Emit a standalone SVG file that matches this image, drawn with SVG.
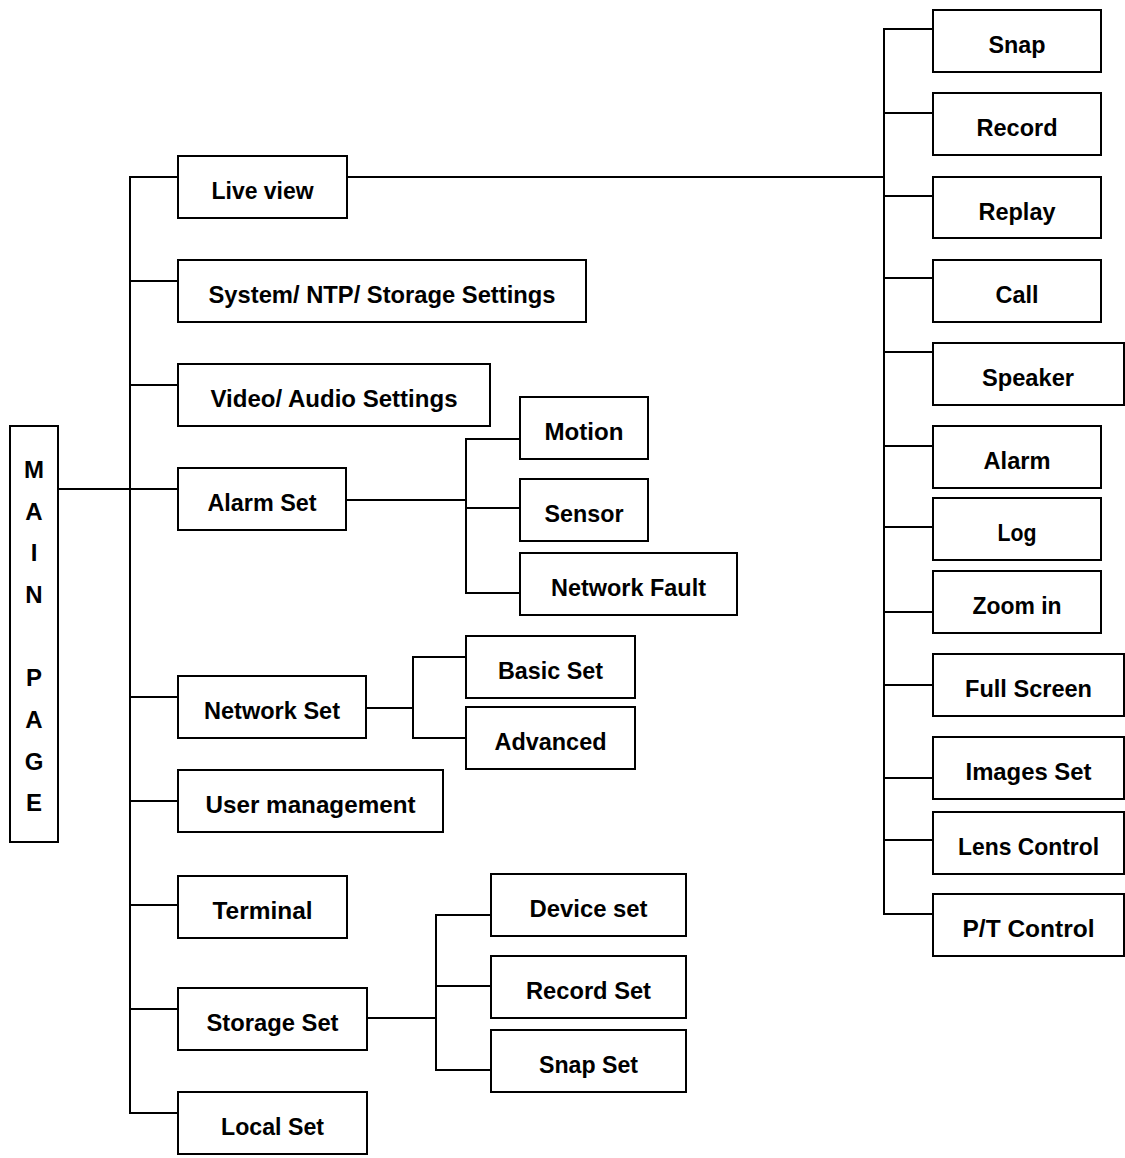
<svg xmlns="http://www.w3.org/2000/svg" width="1125" height="1158" viewBox="0 0 1125 1158">
<style>
rect{fill:#fff;stroke:#000;stroke-width:2}
.c line{stroke:#000;stroke-width:2;stroke-linecap:square}
text{font-family:"Liberation Sans",Arial,sans-serif;font-weight:bold;font-size:24px;text-anchor:middle;fill:#000}
</style>
<rect x="0" y="0" width="1125" height="1158" style="stroke:none"/>
<g class="c" id="connectors">
<line x1="58" y1="489" x2="130" y2="489"/>
<line x1="130" y1="177" x2="130" y2="1113"/>
<line x1="130" y1="177" x2="178" y2="177"/>
<line x1="130" y1="281" x2="178" y2="281"/>
<line x1="130" y1="385" x2="178" y2="385"/>
<line x1="130" y1="489" x2="178" y2="489"/>
<line x1="130" y1="697" x2="178" y2="697"/>
<line x1="130" y1="801" x2="178" y2="801"/>
<line x1="130" y1="905" x2="178" y2="905"/>
<line x1="130" y1="1009" x2="178" y2="1009"/>
<line x1="130" y1="1113" x2="178" y2="1113"/>
<line x1="347" y1="177" x2="884" y2="177"/>
<line x1="884" y1="29" x2="884" y2="914"/>
<line x1="884" y1="29" x2="933" y2="29"/>
<line x1="884" y1="113" x2="933" y2="113"/>
<line x1="884" y1="196" x2="933" y2="196"/>
<line x1="884" y1="278" x2="933" y2="278"/>
<line x1="884" y1="352" x2="933" y2="352"/>
<line x1="884" y1="446" x2="933" y2="446"/>
<line x1="884" y1="527" x2="933" y2="527"/>
<line x1="884" y1="612" x2="933" y2="612"/>
<line x1="884" y1="685" x2="933" y2="685"/>
<line x1="884" y1="778" x2="933" y2="778"/>
<line x1="884" y1="840" x2="933" y2="840"/>
<line x1="884" y1="914" x2="933" y2="914"/>
<line x1="346" y1="500" x2="466" y2="500"/>
<line x1="466" y1="439" x2="466" y2="593"/>
<line x1="466" y1="439" x2="520" y2="439"/>
<line x1="466" y1="508" x2="520" y2="508"/>
<line x1="466" y1="593" x2="520" y2="593"/>
<line x1="366" y1="708" x2="413" y2="708"/>
<line x1="413" y1="657" x2="413" y2="738"/>
<line x1="413" y1="657" x2="466" y2="657"/>
<line x1="413" y1="738" x2="466" y2="738"/>
<line x1="367" y1="1018" x2="436" y2="1018"/>
<line x1="436" y1="915" x2="436" y2="1070"/>
<line x1="436" y1="915" x2="491" y2="915"/>
<line x1="436" y1="986" x2="491" y2="986"/>
<line x1="436" y1="1070" x2="491" y2="1070"/>
</g>
<g id="main-page"><rect x="10" y="426" width="48" height="416"/>
<text x="34" y="478">M</text><text x="34" y="520">A</text><text x="34" y="561">I</text><text x="34" y="603">N</text><text x="34" y="686">P</text><text x="34" y="728">A</text><text x="34" y="770">G</text><text x="34" y="811">E</text></g>
<g id="live-view"><rect x="178" y="156" width="169" height="62"/><text x="262.5" y="199" textLength="102" lengthAdjust="spacingAndGlyphs">Live view</text></g>
<g id="system"><rect x="178" y="260" width="408" height="62"/><text x="382" y="303" textLength="347" lengthAdjust="spacingAndGlyphs">System/ NTP/ Storage Settings</text></g>
<g id="video"><rect x="178" y="364" width="312" height="62"/><text x="334" y="407" textLength="247" lengthAdjust="spacingAndGlyphs">Video/ Audio Settings</text></g>
<g id="alarm-set"><rect x="178" y="468" width="168" height="62"/><text x="262" y="511" textLength="109" lengthAdjust="spacingAndGlyphs">Alarm Set</text></g>
<g id="network-set"><rect x="178" y="676" width="188" height="62"/><text x="272" y="719" textLength="136" lengthAdjust="spacingAndGlyphs">Network Set</text></g>
<g id="user-management"><rect x="178" y="770" width="265" height="62"/><text x="310.5" y="813" textLength="210" lengthAdjust="spacingAndGlyphs">User management</text></g>
<g id="terminal"><rect x="178" y="876" width="169" height="62"/><text x="262.5" y="919" textLength="100" lengthAdjust="spacingAndGlyphs">Terminal</text></g>
<g id="storage-set"><rect x="178" y="988" width="189" height="62"/><text x="272.5" y="1031" textLength="132" lengthAdjust="spacingAndGlyphs">Storage Set</text></g>
<g id="local-set"><rect x="178" y="1092" width="189" height="62"/><text x="272.5" y="1135" textLength="103" lengthAdjust="spacingAndGlyphs">Local Set</text></g>
<g id="motion"><rect x="520" y="397" width="128" height="62"/><text x="584" y="440" textLength="79" lengthAdjust="spacingAndGlyphs">Motion</text></g>
<g id="sensor"><rect x="520" y="479" width="128" height="62"/><text x="584" y="522" textLength="79" lengthAdjust="spacingAndGlyphs">Sensor</text></g>
<g id="network-fault"><rect x="520" y="553" width="217" height="62"/><text x="628.5" y="596" textLength="155" lengthAdjust="spacingAndGlyphs">Network Fault</text></g>
<g id="basic-set"><rect x="466" y="636" width="169" height="62"/><text x="550.5" y="679" textLength="105" lengthAdjust="spacingAndGlyphs">Basic Set</text></g>
<g id="advanced"><rect x="466" y="707" width="169" height="62"/><text x="550.5" y="750" textLength="112" lengthAdjust="spacingAndGlyphs">Advanced</text></g>
<g id="device-set"><rect x="491" y="874" width="195" height="62"/><text x="588.5" y="917" textLength="118" lengthAdjust="spacingAndGlyphs">Device set</text></g>
<g id="record-set"><rect x="491" y="956" width="195" height="62"/><text x="588.5" y="999" textLength="125" lengthAdjust="spacingAndGlyphs">Record Set</text></g>
<g id="snap-set"><rect x="491" y="1030" width="195" height="62"/><text x="588.5" y="1073" textLength="99" lengthAdjust="spacingAndGlyphs">Snap Set</text></g>
<g id="snap"><rect x="933" y="10" width="168" height="62"/><text x="1017" y="53" textLength="57" lengthAdjust="spacingAndGlyphs">Snap</text></g>
<g id="record"><rect x="933" y="93" width="168" height="62"/><text x="1017" y="136" textLength="81" lengthAdjust="spacingAndGlyphs">Record</text></g>
<g id="replay"><rect x="933" y="177" width="168" height="61"/><text x="1017" y="220" textLength="77" lengthAdjust="spacingAndGlyphs">Replay</text></g>
<g id="call"><rect x="933" y="260" width="168" height="62"/><text x="1017" y="303" textLength="43" lengthAdjust="spacingAndGlyphs">Call</text></g>
<g id="speaker"><rect x="933" y="343" width="191" height="62"/><text x="1028" y="386" textLength="92" lengthAdjust="spacingAndGlyphs">Speaker</text></g>
<g id="alarm"><rect x="933" y="426" width="168" height="62"/><text x="1017" y="469" textLength="67" lengthAdjust="spacingAndGlyphs">Alarm</text></g>
<g id="log"><rect x="933" y="498" width="168" height="62"/><text x="1017" y="541" textLength="39" lengthAdjust="spacingAndGlyphs">Log</text></g>
<g id="zoom-in"><rect x="933" y="571" width="168" height="62"/><text x="1017" y="614" textLength="89" lengthAdjust="spacingAndGlyphs">Zoom in</text></g>
<g id="full-screen"><rect x="933" y="654" width="191" height="62"/><text x="1028.5" y="697" textLength="127" lengthAdjust="spacingAndGlyphs">Full Screen</text></g>
<g id="images-set"><rect x="933" y="737" width="191" height="62"/><text x="1028.5" y="780" textLength="126" lengthAdjust="spacingAndGlyphs">Images Set</text></g>
<g id="lens-control"><rect x="933" y="812" width="191" height="62"/><text x="1028.5" y="855" textLength="141" lengthAdjust="spacingAndGlyphs">Lens Control</text></g>
<g id="pt-control"><rect x="933" y="894" width="191" height="62"/><text x="1028.5" y="937" textLength="132" lengthAdjust="spacingAndGlyphs">P/T Control</text></g>
</svg>
